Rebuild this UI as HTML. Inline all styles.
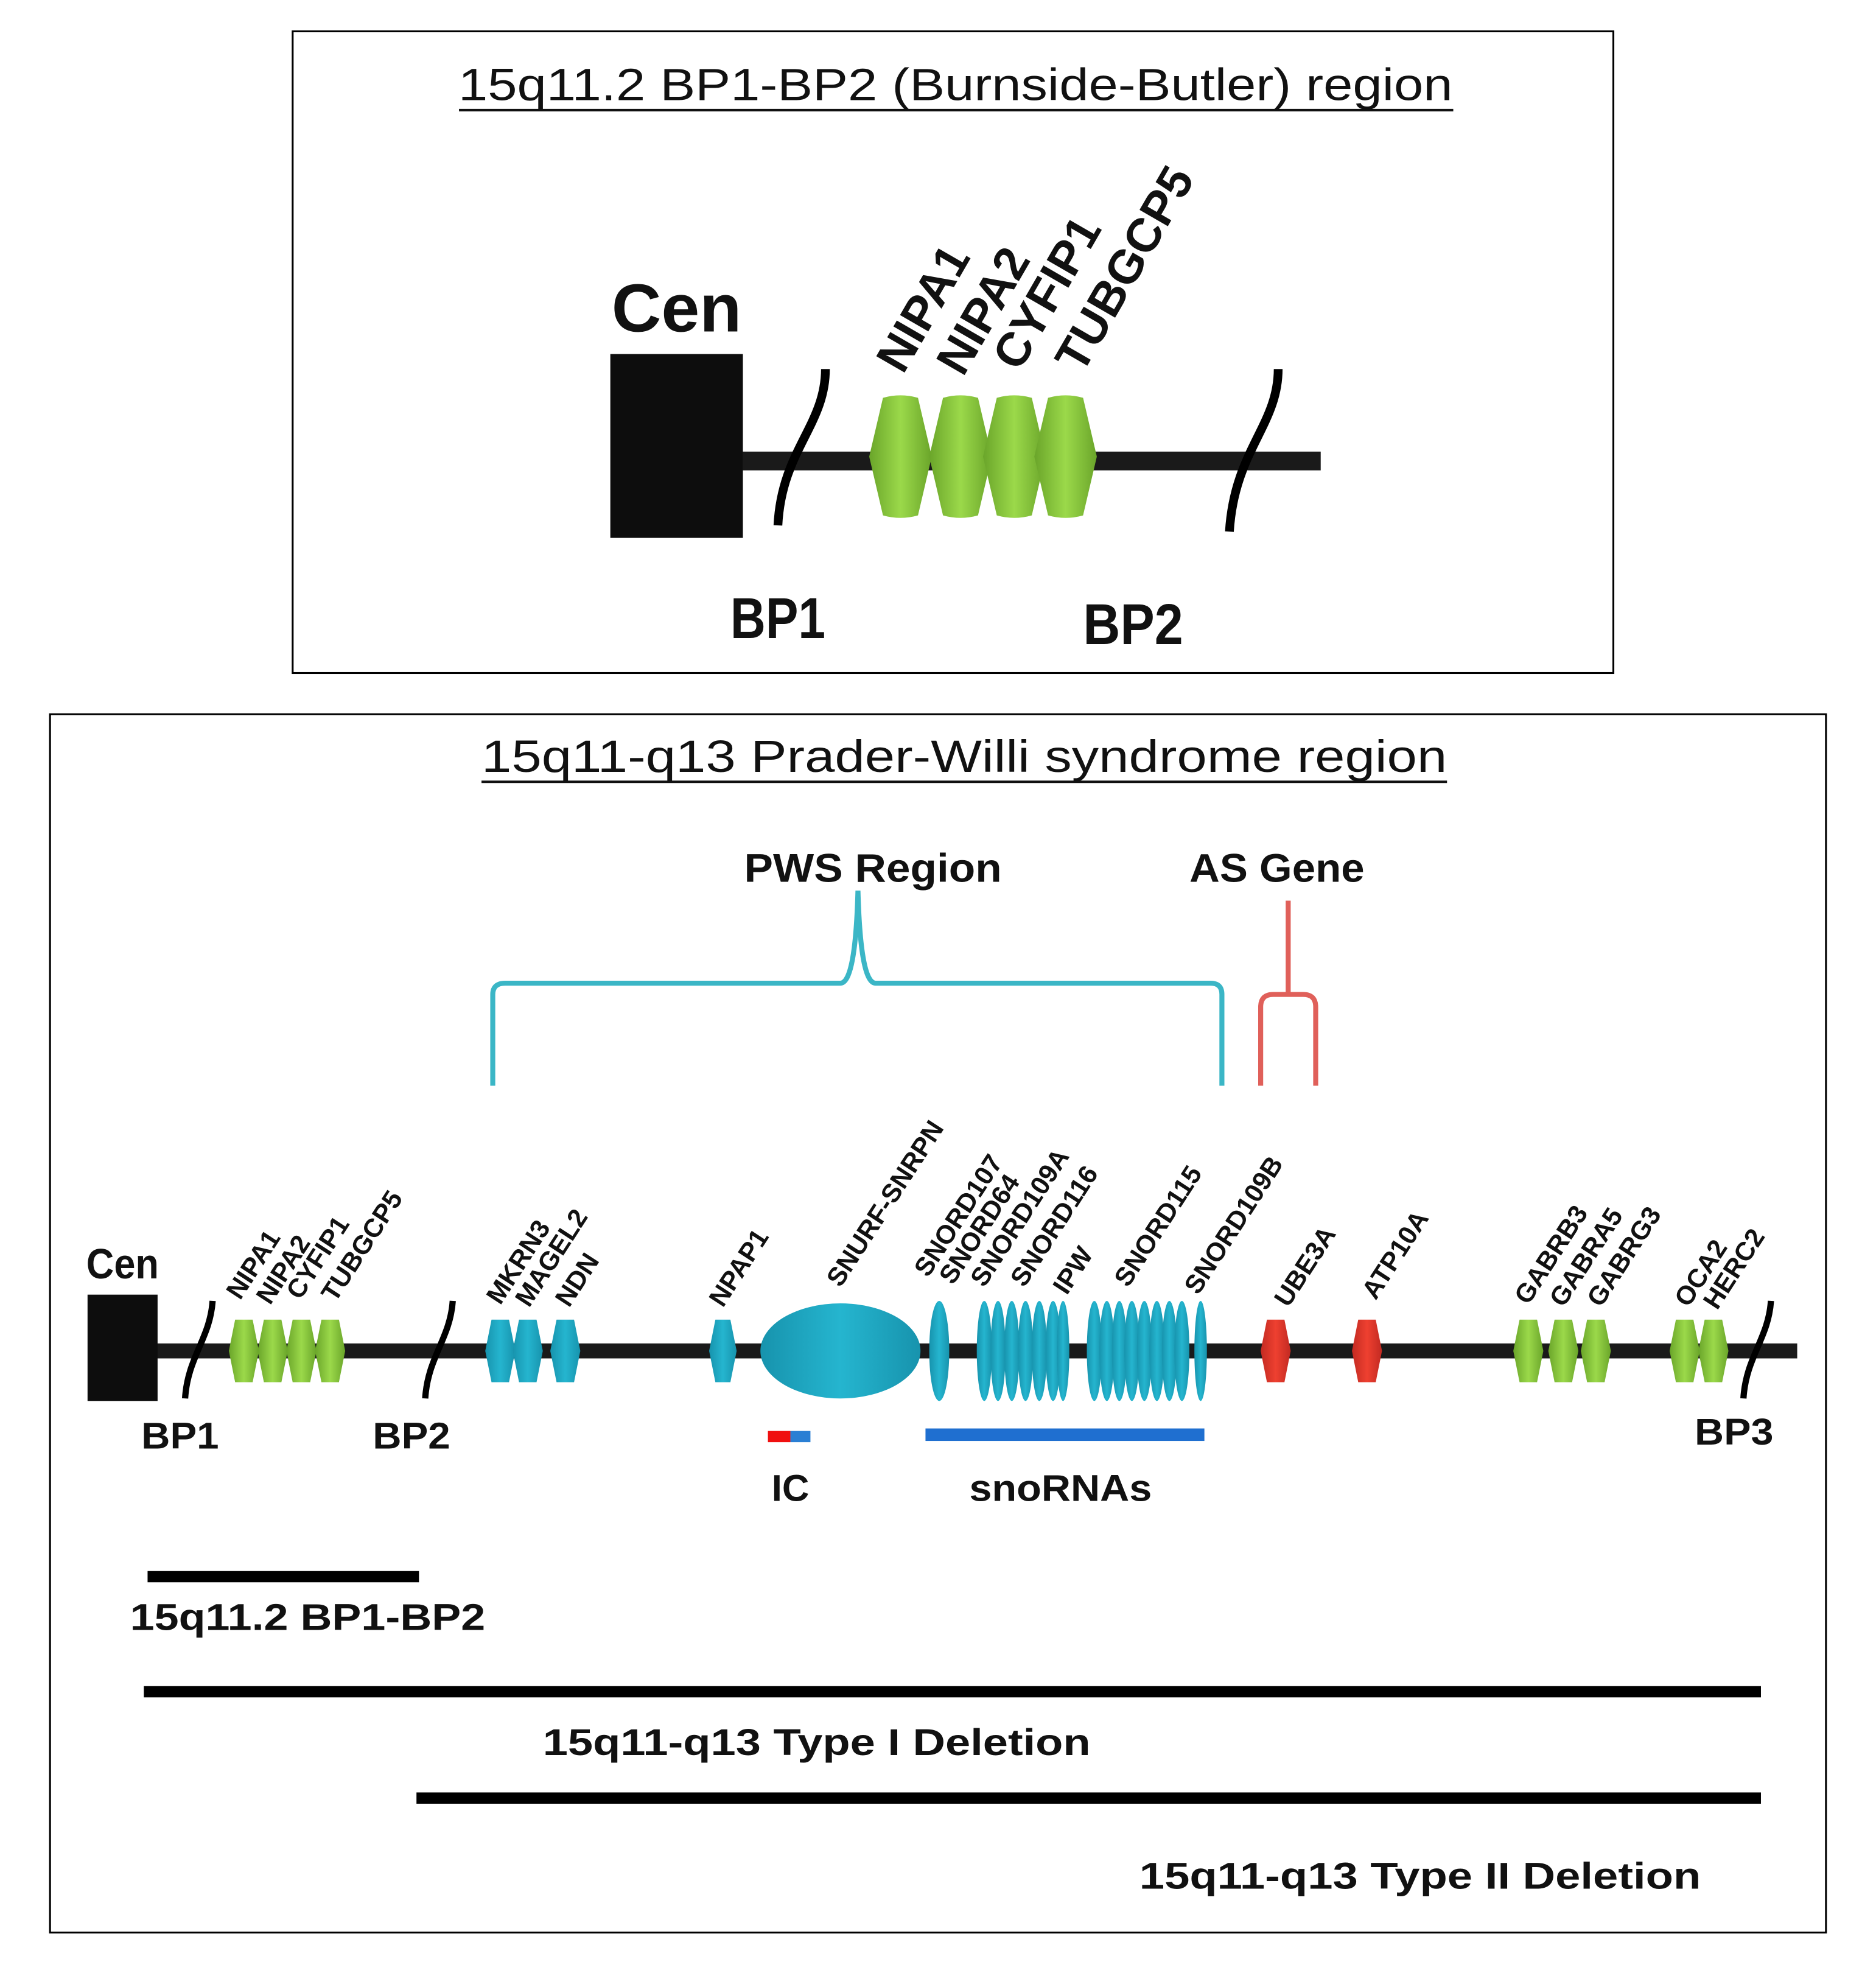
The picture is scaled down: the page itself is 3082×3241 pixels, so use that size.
<!DOCTYPE html>
<html><head><meta charset="utf-8"><style>
html,body{margin:0;padding:0;background:#fff;}
svg{display:block;}
.t{font-family:"Liberation Sans",sans-serif;}
.g{font-family:"Liberation Sans",sans-serif;font-weight:bold;font-size:21px;fill:#111;}
.gt{font-family:"Liberation Sans",sans-serif;font-weight:bold;font-size:30px;fill:#111;}
</style></head><body>
<svg width="3082" height="3241" viewBox="0 0 1500 1577.3" xmlns="http://www.w3.org/2000/svg">
<defs>
<linearGradient id="gr" x1="0" x2="1"><stop offset="0" stop-color="#6aa52a"/><stop offset="0.5" stop-color="#9bd94a"/><stop offset="1" stop-color="#6aa52a"/></linearGradient>
<linearGradient id="cy" x1="0" x2="1"><stop offset="0" stop-color="#1793ad"/><stop offset="0.5" stop-color="#25b5cf"/><stop offset="1" stop-color="#1793ad"/></linearGradient>
<linearGradient id="rd" x1="0" x2="1"><stop offset="0" stop-color="#c22a22"/><stop offset="0.5" stop-color="#ee4030"/><stop offset="1" stop-color="#c22a22"/></linearGradient>
</defs>
<rect width="1500" height="1577.3" fill="#fff"/>

<rect x="234" y="25" width="1056" height="513" fill="none" stroke="#000" stroke-width="1.5"/>
<text class="t" x="764" y="80" font-size="36" text-anchor="middle" textLength="795" lengthAdjust="spacingAndGlyphs" fill="#111">15q11.2 BP1-BP2 (Burnside-Butler) region</text>
<line x1="367" y1="88" x2="1162" y2="88" stroke="#111" stroke-width="2"/>

<rect x="488" y="283" width="106" height="147" fill="#0d0d0d"/>
<text class="t" x="541" y="265" font-size="54" font-weight="bold" text-anchor="middle" textLength="104" lengthAdjust="spacingAndGlyphs" fill="#111">Cen</text>
<rect x="594" y="361" width="462" height="15" fill="#1a1a1a"/>
<path d="M660 295 C 660 340, 625 360, 622 420" fill="none" stroke="#000" stroke-width="7"/>
<path d="M1022 295 C 1022 340, 987 360, 983 425" fill="none" stroke="#000" stroke-width="7"/>
<g fill="url(#gr)">
<path d="M706 318 Q720 314 734 318 L745 365 L734 412 Q720 416 706 412 L695 365 Z"/>
<path d="M754 318 Q768 314 782 318 L793 365 L782 412 Q768 416 754 412 L743 365 Z"/>
<path d="M797 318 Q811 314 825 318 L836 365 L825 412 Q811 416 797 412 L786 365 Z"/>
<path d="M838 318 Q852 314 866 318 L877 365 L866 412 Q852 416 838 412 L827 365 Z"/>
</g>
<g class="t" font-weight="bold" font-size="38" fill="#111">
<text transform="translate(722 300) rotate(-60)">NIPA1</text>
<text transform="translate(770 302) rotate(-60)">NIPA2</text>
<text transform="translate(815 298) rotate(-60)">CYFIP1</text>
<text transform="translate(865 300) rotate(-60)">TUBGCP5</text>
</g>
<text class="t" x="622" y="510" font-size="46" font-weight="bold" text-anchor="middle" textLength="76" lengthAdjust="spacingAndGlyphs" fill="#111">BP1</text>
<text class="t" x="906" y="515" font-size="46" font-weight="bold" text-anchor="middle" textLength="80" lengthAdjust="spacingAndGlyphs" fill="#111">BP2</text>

<rect x="40" y="571" width="1420" height="974" fill="none" stroke="#000" stroke-width="1.5"/>
<text class="t" x="771" y="617" font-size="36" text-anchor="middle" textLength="772" lengthAdjust="spacingAndGlyphs" fill="#111">15q11-q13 Prader-Willi syndrome region</text>
<line x1="385" y1="625" x2="1157" y2="625" stroke="#111" stroke-width="2"/>

<text class="t" x="698" y="705" font-size="32" font-weight="bold" text-anchor="middle" textLength="206" lengthAdjust="spacingAndGlyphs" fill="#111">PWS  Region</text>
<text class="t" x="1021" y="705" font-size="32" font-weight="bold" text-anchor="middle" textLength="140" lengthAdjust="spacingAndGlyphs" fill="#111">AS Gene</text>

<path d="M394 868 L394 795 Q394 786 404 786 L672 786 Q684 786 686 712 Q688 786 700 786 L968 786 Q977 786 977 795 L977 868" fill="none" stroke="#3bb6c6" stroke-width="4"/>
<path d="M1030 720 L1030 795 M1008 868 L1008 805 Q1008 795 1018 795 L1042 795 Q1052 795 1052 805 L1052 868" fill="none" stroke="#e0605a" stroke-width="4"/>

<rect x="125" y="1074" width="1312" height="12" fill="#1a1a1a"/>
<rect x="70" y="1035" width="56" height="85" fill="#0d0d0d"/>
<text class="t" x="98" y="1022" font-size="34" font-weight="bold" text-anchor="middle" textLength="58" lengthAdjust="spacingAndGlyphs" fill="#111">Cen</text>
<path d="M170 1040 C 168 1070, 150 1085, 148 1118" fill="none" stroke="#000" stroke-width="5"/>
<path d="M362 1040 C 360 1070, 342 1085, 340 1118" fill="none" stroke="#000" stroke-width="5"/>
<path d="M1416 1040 C 1414 1070, 1396 1085, 1394 1118" fill="none" stroke="#000" stroke-width="5"/>

<g fill="url(#gr)">
<path d="M188 1055 L202 1055 L207 1080 L202 1105 L188 1105 L183 1080 Z"/>
<path d="M211 1055 L225 1055 L230 1080 L225 1105 L211 1105 L206 1080 Z"/>
<path d="M234 1055 L248 1055 L253 1080 L248 1105 L234 1105 L229 1080 Z"/>
<path d="M257 1055 L271 1055 L276 1080 L271 1105 L257 1105 L252 1080 Z"/>
<path d="M1215 1055 L1229 1055 L1234 1080 L1229 1105 L1215 1105 L1210 1080 Z"/>
<path d="M1243 1055 L1257 1055 L1262 1080 L1257 1105 L1243 1105 L1238 1080 Z"/>
<path d="M1269 1055 L1283 1055 L1288 1080 L1283 1105 L1269 1105 L1264 1080 Z"/>
<path d="M1340 1055 L1354 1055 L1359 1080 L1354 1105 L1340 1105 L1335 1080 Z"/>
<path d="M1363 1055 L1377 1055 L1382 1080 L1377 1105 L1363 1105 L1358 1080 Z"/>
</g>
<g fill="url(#cy)">
<path d="M393 1055 L407 1055 L412 1080 L407 1105 L393 1105 L388 1080 Z"/>
<path d="M415 1055 L429 1055 L434 1080 L429 1105 L415 1105 L410 1080 Z"/>
<path d="M445 1055 L459 1055 L464 1080 L459 1105 L445 1105 L440 1080 Z"/>
<path d="M572 1055 L584 1055 L589 1080 L584 1105 L572 1105 L567 1080 Z"/>
<ellipse cx="672" cy="1080" rx="64" ry="38"/>
<ellipse cx="751" cy="1080" rx="8" ry="40"/>
<ellipse cx="787" cy="1080" rx="6" ry="40"/>
<ellipse cx="798" cy="1080" rx="6" ry="40"/>
<ellipse cx="809" cy="1080" rx="6" ry="40"/>
<ellipse cx="820" cy="1080" rx="6" ry="40"/>
<ellipse cx="831" cy="1080" rx="6" ry="40"/>
<ellipse cx="842" cy="1080" rx="6" ry="40"/>
<ellipse cx="850" cy="1080" rx="5" ry="40"/>
<ellipse cx="875" cy="1080" rx="6" ry="40"/>
<ellipse cx="885" cy="1080" rx="6" ry="40"/>
<ellipse cx="895" cy="1080" rx="6" ry="40"/>
<ellipse cx="905" cy="1080" rx="6" ry="40"/>
<ellipse cx="915" cy="1080" rx="6" ry="40"/>
<ellipse cx="925" cy="1080" rx="6" ry="40"/>
<ellipse cx="935" cy="1080" rx="6" ry="40"/>
<ellipse cx="945" cy="1080" rx="6" ry="40"/>
<ellipse cx="960" cy="1080" rx="5" ry="40"/>
</g>
<g fill="url(#rd)">
<path d="M1013 1055 L1027 1055 L1032 1080 L1027 1105 L1013 1105 L1008 1080 Z"/>
<path d="M1086 1055 L1100 1055 L1105 1080 L1100 1105 L1086 1105 L1081 1080 Z"/>
</g>

<g class="g">
<text transform="translate(192 1040) rotate(-57)">NIPA1</text>
<text transform="translate(216 1044) rotate(-57)">NIPA2</text>
<text transform="translate(240 1040) rotate(-57)">CYFIP1</text>
<text transform="translate(268 1042) rotate(-57)">TUBGCP5</text>
<text transform="translate(400 1044) rotate(-57)">MKRN3</text>
<text transform="translate(423 1046) rotate(-57)">MAGEL2</text>
<text transform="translate(455 1046) rotate(-57)">NDN</text>
<text transform="translate(578 1046) rotate(-57)">NPAP1</text>
<text transform="translate(672 1030) rotate(-57)">SNURF-SNRPN</text>
<text transform="translate(742 1022) rotate(-57)">SNORD107</text>
<text transform="translate(762 1028) rotate(-57)">SNORD64</text>
<text transform="translate(787 1030) rotate(-57)">SNORD109A</text>
<text transform="translate(819 1030) rotate(-57)">SNORD116</text>
<text transform="translate(853 1036) rotate(-57)">IPW</text>
<text transform="translate(902 1030) rotate(-57)">SNORD115</text>
<text transform="translate(958 1036) rotate(-57)">SNORD109B</text>
<text transform="translate(1030 1046) rotate(-57)">UBE3A</text>
<text transform="translate(1100 1040) rotate(-57)">ATP10A</text>
<text transform="translate(1222 1044) rotate(-57)">GABRB3</text>
<text transform="translate(1250 1046) rotate(-57)">GABRA5</text>
<text transform="translate(1280 1046) rotate(-57)">GABRG3</text>
<text transform="translate(1350 1046) rotate(-57)">OCA2</text>
<text transform="translate(1373 1048) rotate(-57)">HERC2</text>
</g>

<g class="gt">
<text x="113" y="1158" textLength="62" lengthAdjust="spacingAndGlyphs">BP1</text>
<text x="298" y="1158" textLength="62" lengthAdjust="spacingAndGlyphs">BP2</text>
<text x="1355" y="1155" textLength="63" lengthAdjust="spacingAndGlyphs">BP3</text>
<text x="632" y="1200" text-anchor="middle">IC</text>
<text x="848" y="1200" text-anchor="middle" textLength="146" lengthAdjust="spacingAndGlyphs">snoRNAs</text>
<text x="104" y="1303" textLength="284" lengthAdjust="spacingAndGlyphs">15q11.2 BP1-BP2</text>
<text x="434" y="1403" textLength="438" lengthAdjust="spacingAndGlyphs">15q11-q13 Type I Deletion</text>
<text x="911" y="1510" textLength="449" lengthAdjust="spacingAndGlyphs">15q11-q13 Type II Deletion</text>
</g>
<rect x="614" y="1144" width="18" height="9" fill="#f01010"/>
<rect x="632" y="1144" width="16" height="9" fill="#2a7fd4"/>
<rect x="740" y="1142" width="223" height="10" fill="#1f6fd0"/>

<rect x="118" y="1256" width="217" height="9" fill="#000"/>
<rect x="115" y="1348" width="1293" height="9" fill="#000"/>
<rect x="333" y="1433" width="1075" height="9" fill="#000"/>
</svg>
</body></html>
